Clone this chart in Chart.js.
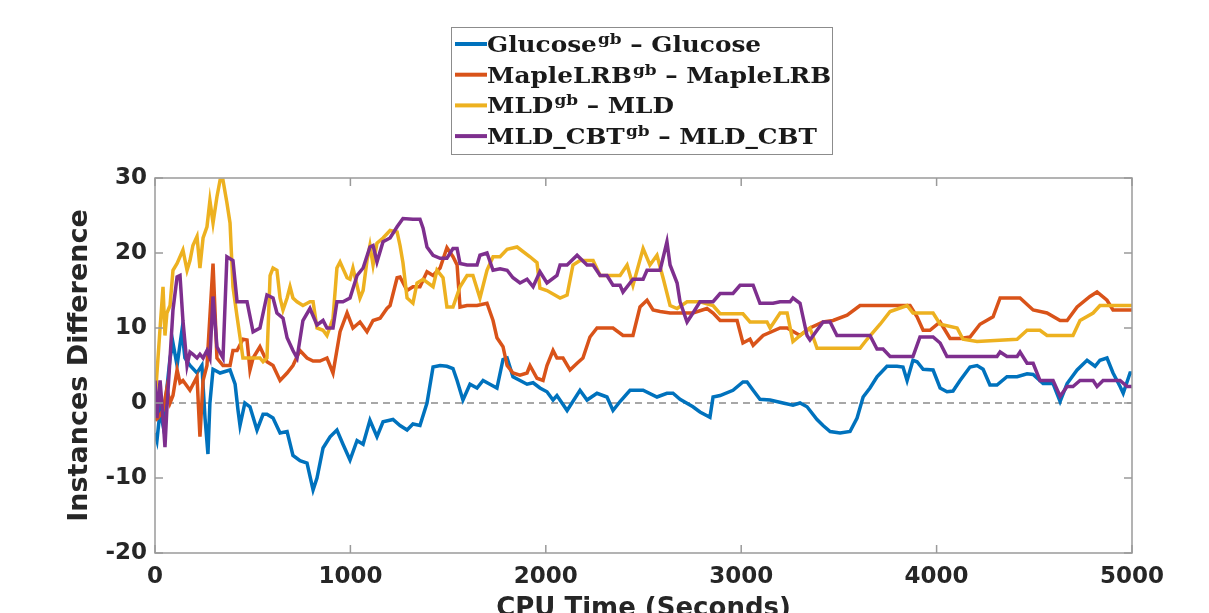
<!DOCTYPE html>
<html>
<head>
<meta charset="utf-8">
<script src="https://cdn.jsdelivr.net/npm/chart.js@4"></script>
<style>
  html, body { margin: 0; padding: 0; background: #fff; overflow: hidden; }
  #wrap { position: relative; width: 1209px; height: 625px; }
  #legendFrame { position: absolute; left: 451px; top: 27px; width: 380px; height: 126px; border: 1.5px solid #8c8c8c; pointer-events: none; }
</style>
</head>
<body>
<div id="wrap"><canvas id="chart" width="1209" height="625"></canvas><div id="legendFrame"></div></div>
<script>
// series names, legend reads "<name>^gb – <name>"
const seriesNames = ['Glucose', 'MapleLRB', 'MLD', 'MLD_CBT']
const seriesColors = ['#0072BD', '#D95319', '#EDB120', '#7E2F8E']

const xTicks = [0, 1000, 2000, 3000, 4000, 5000]
const yTicks = [-20, -10, 0, 10, 20, 30]

// CPU time (s) / instances difference
const glucoseT = [0, 10, 26, 41, 61, 77, 92, 113, 138, 153, 179, 215, 240, 256, 271, 281, 297, 333, 384, 410, 425, 435, 460, 486, 522, 553, 573, 604, 640, 676, 706, 742, 778, 809, 829, 860, 896, 931, 962, 998, 1034, 1065, 1100, 1136, 1167, 1218, 1254, 1290, 1320, 1356, 1392, 1423, 1459, 1494, 1525, 1546, 1576, 1612, 1648, 1679, 1714, 1750, 1781, 1802, 1832, 1868, 1904, 1935, 1970, 2006, 2037, 2057, 2109, 2175, 2211, 2262, 2313, 2344, 2380, 2431, 2498, 2569, 2620, 2651, 2687, 2753, 2789, 2840, 2856, 2892, 2958, 3009, 3030, 3061, 3096, 3148, 3214, 3265, 3301, 3337, 3388, 3419, 3455, 3506, 3557, 3593, 3624, 3659, 3695, 3746, 3797, 3828, 3849, 3879, 3900, 3931, 3982, 4018, 4053, 4084, 4120, 4171, 4207, 4238, 4273, 4309, 4360, 4412, 4463, 4494, 4545, 4596, 4632, 4668, 4719, 4770, 4811, 4836, 4872, 4903, 4939, 4955, 4990, 5000]
const glucoseV = [-4, -5, -1, -3, 2, 6, 8, 5, 9.7, 6, 5, 4, 5, -2, -6.8, 0, 4.5, 4, 4.4, 2.5, -1, -3, 0, -0.5, -3.6, -1.5, -1.5, -2, -4, -3.8, -7, -7.7, -8, -11.6, -10, -6, -4.5, -3.6, -5.5, -7.6, -5, -5.5, -2.3, -4.5, -2.5, -2.2, -3, -3.6, -2.8, -3, 0, 4.8, 5, 4.9, 4.6, 3, 0.4, 2.5, 2, 3, 2.5, 2, 5.8, 6, 3.5, 3, 2.5, 2.7, 2, 1.5, 0.4, 1, -1, 1.7, 0.4, 1.3, 0.8, -1, 0.2, 1.7, 1.7, 0.8, 1.3, 1.3, 0.5, -0.5, -1.2, -1.9, 0.8, 1, 1.7, 2.8, 2.8, 1.7, 0.5, 0.4, 0, -0.3, 0, -0.5, -2.2, -3, -3.8, -4, -3.8, -2, 0.8, 2, 3.5, 4.9, 4.9, 4.8, 3, 5.7, 5.5, 4.5, 4.4, 2, 1.5, 1.6, 3, 4.8, 5, 4.5, 2.4, 2.4, 3.5, 3.5, 3.9, 3.8, 2.6, 2.6, 0.2, 2.6, 4.4, 5.7, 4.9, 5.7, 6, 4, 2.2, 1.3, 4, 4]

const mapleT = [0, 15, 41, 61, 77, 92, 113, 128, 143, 179, 215, 230, 246, 266, 297, 317, 348, 384, 399, 420, 450, 471, 486, 502, 537, 573, 604, 640, 676, 706, 742, 778, 809, 844, 880, 911, 947, 983, 1013, 1049, 1085, 1116, 1152, 1187, 1203, 1239, 1254, 1290, 1320, 1356, 1392, 1423, 1459, 1494, 1525, 1546, 1561, 1597, 1648, 1699, 1730, 1750, 1781, 1802, 1832, 1868, 1904, 1919, 1955, 1986, 2006, 2037, 2057, 2088, 2124, 2160, 2190, 2226, 2262, 2293, 2344, 2395, 2446, 2482, 2518, 2549, 2585, 2636, 2687, 2753, 2825, 2856, 2892, 2979, 3009, 3045, 3061, 3112, 3199, 3235, 3301, 3352, 3419, 3470, 3542, 3608, 3700, 3800, 3864, 3900, 3931, 3966, 4018, 4069, 4120, 4171, 4222, 4289, 4325, 4427, 4494, 4565, 4632, 4668, 4719, 4785, 4821, 4872, 4903, 5000]
const mapleV = [-2.3, -2, -1, 2, 0, 1, 4.4, 2.7, 3, 1.7, 3.5, -4.5, 3, 5, 18.6, 6, 5, 5, 7, 7, 8.5, 8.4, 4.4, 6, 7.5, 5.5, 5, 3, 4, 5, 7, 6, 5.6, 5.6, 6, 4, 9.5, 12, 10, 10.8, 9.5, 11, 11.3, 12.6, 13, 16.7, 16.8, 15, 15.5, 15.5, 17.5, 17, 18, 20.7, 19.5, 18.4, 12.8, 13, 13, 13.3, 11, 8.7, 7.5, 5, 4, 3.7, 4, 5, 3.3, 3, 5, 7, 6, 6, 4.4, 5.3, 6, 8.8, 10, 10, 10, 9, 9, 12.8, 13.7, 12.4, 12.2, 12, 12, 12, 12.6, 12, 11, 11, 8, 8.5, 7.7, 9, 10, 10, 9, 10, 10.8, 11, 11.7, 13, 13, 13, 13, 11.5, 9.7, 9.7, 10.8, 8.6, 8.6, 8.8, 10.5, 11.5, 14, 14, 12.4, 12, 11, 11, 12.8, 14.2, 14.8, 13.7, 12.4, 12.4]

const mldT = [0, 10, 26, 41, 51, 61, 77, 92, 113, 143, 164, 179, 194, 215, 230, 246, 266, 281, 297, 317, 333, 348, 368, 384, 399, 420, 435, 450, 486, 537, 553, 573, 589, 604, 624, 640, 655, 676, 691, 706, 727, 757, 793, 809, 829, 860, 880, 911, 931, 947, 983, 998, 1013, 1049, 1065, 1085, 1100, 1116, 1136, 1167, 1203, 1239, 1254, 1269, 1290, 1320, 1341, 1372, 1423, 1443, 1474, 1494, 1525, 1561, 1597, 1627, 1663, 1699, 1730, 1766, 1802, 1853, 1919, 1955, 1970, 2006, 2073, 2109, 2139, 2175, 2242, 2278, 2313, 2380, 2416, 2446, 2498, 2533, 2569, 2600, 2636, 2672, 2723, 2789, 2856, 2892, 3009, 3045, 3132, 3148, 3199, 3235, 3265, 3316, 3352, 3388, 3608, 3644, 3711, 3762, 3849, 3879, 3982, 4018, 4105, 4135, 4207, 4412, 4463, 4529, 4565, 4698, 4734, 4801, 4836, 5000]
const mldV = [0, 4, 10, 15.5, 9, 12, 13, 17.7, 18.6, 20.4, 17.7, 19, 21, 22.2, 18, 22, 23.5, 27, 24, 27.5, 29.7, 29.7, 26.7, 24, 15.5, 11.5, 8.8, 6, 6, 6, 5.5, 6, 17, 18, 17.7, 14, 12.4, 14, 15.5, 14, 13.5, 13, 13.5, 13.5, 10, 9.7, 9, 11.3, 18, 18.8, 16.7, 16.5, 18, 14, 15, 19, 21, 18.4, 21.3, 22, 23, 22.8, 21, 18.7, 14, 13.3, 16, 16.5, 15.5, 17.7, 16.7, 12.8, 12.8, 15.5, 17, 17, 14, 17.7, 19.5, 19.5, 20.5, 20.8, 19.5, 18.7, 15.3, 15, 14, 14.4, 18.4, 19, 19, 17, 17, 17, 18.4, 15.7, 20.6, 18.4, 19.7, 16.7, 13, 12.6, 13.5, 13.5, 13, 11.9, 11.9, 10.8, 10.8, 10, 12, 12, 8.2, 9.3, 10, 7.3, 7.3, 8.5, 10.5, 12.2, 13, 12, 12, 10.5, 10, 8.5, 8.2, 8.5, 9.7, 9.7, 9, 9, 11, 12, 13, 13]

const cbtT = [0, 10, 26, 41, 51, 61, 77, 92, 113, 128, 143, 164, 179, 194, 215, 230, 246, 266, 281, 297, 317, 348, 368, 399, 420, 450, 471, 502, 537, 573, 604, 624, 655, 676, 706, 727, 757, 793, 829, 860, 880, 911, 931, 962, 998, 1034, 1065, 1100, 1116, 1136, 1167, 1203, 1239, 1269, 1320, 1356, 1372, 1392, 1423, 1459, 1494, 1525, 1546, 1561, 1597, 1648, 1663, 1699, 1730, 1766, 1802, 1832, 1868, 1904, 1935, 1970, 2006, 2057, 2073, 2109, 2160, 2211, 2242, 2278, 2313, 2344, 2380, 2395, 2446, 2498, 2518, 2585, 2620, 2636, 2672, 2687, 2723, 2753, 2789, 2856, 2892, 2958, 2994, 3061, 3096, 3163, 3199, 3250, 3265, 3301, 3316, 3337, 3352, 3388, 3419, 3455, 3490, 3593, 3659, 3695, 3726, 3762, 3879, 3915, 3982, 4018, 4053, 4309, 4325, 4360, 4412, 4427, 4463, 4494, 4529, 4596, 4632, 4668, 4698, 4734, 4801, 4821, 4852, 4939, 4975, 5000]
const cbtV = [3, -2, 3, -2, -5.9, -0.7, 6, 12.4, 16.8, 17, 11, 5, 6.8, 6.5, 6, 6.5, 6, 7, 6, 14.2, 7.5, 6, 19.5, 19, 13.5, 13.5, 13.5, 9.5, 10, 14.4, 14, 12, 11.3, 8.7, 7, 6, 11, 12.6, 10.4, 11, 10, 10, 13.5, 13.5, 14, 17, 18, 20.8, 21, 18.8, 21.5, 22, 23.5, 24.6, 24.5, 24.5, 23.3, 20.8, 19.7, 19.3, 19.3, 20.6, 20.6, 18.6, 18.4, 18.4, 19.7, 20, 17.7, 17.9, 17.7, 16.7, 16, 16.5, 15.5, 17.5, 16, 17, 18.4, 18.4, 19.7, 18.4, 18.4, 17, 17, 15.7, 15.7, 14.8, 16.5, 16.5, 17.7, 17.7, 21.5, 18.4, 16, 13.5, 10.8, 12, 13.5, 13.5, 14.6, 14.6, 15.7, 15.7, 13.3, 13.3, 13.5, 13.5, 14, 13.3, 11.5, 9, 8.4, 9.7, 10.8, 10.8, 9, 9, 9, 7.2, 7.2, 6.2, 6.2, 8.8, 8.8, 8, 6.2, 6.2, 6.8, 6.2, 6.2, 6.8, 5.3, 5.3, 3, 3, 0.9, 2.2, 2.2, 3, 3, 2.2, 3, 3, 2.2, 2.2]

function pts(t, v) {
  return t.map((x, i) => ({x: x, y: v[i]}))
}

const seriesData = [pts(glucoseT, glucoseV), pts(mapleT, mapleV), pts(mldT, mldV), pts(cbtT, cbtV)]

// MATLAB style box, inward ticks and dashed zero line
const matlabAxes = {
  id: 'matlabAxes',
  beforeDatasetsDraw(chart) {
    const {ctx, chartArea: a, scales: {y}} = chart
    const y0 = y.getPixelForValue(0)
    ctx.save()
    ctx.strokeStyle = '#8a8a8a'
    ctx.lineWidth = 1.3
    ctx.setLineDash([7, 5])
    ctx.beginPath()
    ctx.moveTo(a.left, y0)
    ctx.lineTo(a.right, y0)
    ctx.stroke()
    ctx.restore()
  },
  afterDatasetsDraw(chart) {
    const {ctx, chartArea: a, scales: {x, y}} = chart
    ctx.save()
    ctx.strokeStyle = '#9a9a9a'
    ctx.lineWidth = 1.5
    ctx.strokeRect(a.left, a.top, a.right - a.left, a.bottom - a.top)
    ctx.beginPath()
    xTicks.forEach(t => {
      const px = x.getPixelForValue(t)
      ctx.moveTo(px, a.bottom); ctx.lineTo(px, a.bottom - 8)
      ctx.moveTo(px, a.top); ctx.lineTo(px, a.top + 8)
    })
    yTicks.forEach(t => {
      const py = y.getPixelForValue(t)
      ctx.moveTo(a.left, py); ctx.lineTo(a.left + 8, py)
      ctx.moveTo(a.right, py); ctx.lineTo(a.right - 8, py)
    })
    ctx.stroke()
    ctx.restore()
  }
}

// legend entries with the "gb" superscript (frame is the #legendFrame div)
const boxedLegend = {
  id: 'boxedLegend',
  afterDraw(chart) {
    const ctx = chart.ctx
    const big = 'bold 22px "DejaVu Serif"'
    const small = 'bold 15px "DejaVu Serif"'
    const widthOf = (name) => {
      ctx.font = big
      let w = ctx.measureText(name).width + ctx.measureText(' \u2013 ' + name).width
      ctx.font = small
      return w + ctx.measureText('gb').width
    }
    // fit the widest row into the box
    const sx = 343 / Math.max(...seriesNames.map(widthOf))
    chart.data.datasets.forEach((ds, i) => {
      const cy = 44 + i * 30.7
      ctx.save()
      ctx.strokeStyle = ds.borderColor
      ctx.lineWidth = 4
      ctx.beginPath()
      ctx.moveTo(455, cy)
      ctx.lineTo(487, cy)
      ctx.stroke()
      const name = seriesNames[i]
      ctx.translate(487, cy + 8)
      ctx.scale(sx, 1)
      ctx.fillStyle = '#1a1a1a'
      ctx.textBaseline = 'alphabetic'
      ctx.font = big
      ctx.fillText(name, 0, 0)
      let px = ctx.measureText(name).width + 1
      ctx.font = small
      ctx.fillText('gb', px, -8)
      px += ctx.measureText('gb').width
      ctx.font = big
      ctx.fillText(' \u2013 ' + name, px, 0)
      ctx.restore()
    })
  }
}

const tickFont = {family: 'DejaVu Sans', size: 23, weight: 'bold'}
const titleFont = {family: 'DejaVu Sans', size: 26, weight: 'bold'}

new Chart(document.getElementById('chart'), {
  type: 'line',
  data: {
    datasets: seriesNames.map((n, i) => ({
      label: n + '^gb \u2013 ' + n,
      data: seriesData[i],
      borderColor: seriesColors[i],
      backgroundColor: seriesColors[i],
      borderWidth: 3.5,
      pointRadius: 0,
      tension: 0,
      fill: false,
      order: 3 - i
    }))
  },
  options: {
    responsive: false,
    animation: false,
    layout: {padding: {top: 178, right: 77, left: 0, bottom: 0}},
    plugins: {legend: {display: false}, tooltip: {enabled: false}},
    scales: {
      x: {
        type: 'linear',
        min: 0,
        max: 5000,
        afterFit: s => { s.height = 72 },
        grid: {display: false, drawTicks: false},
        border: {display: false},
        ticks: {stepSize: 1000, font: tickFont, color: '#262626', padding: 10, maxRotation: 0, callback: v => String(v)},
        title: {display: true, text: 'CPU Time (Seconds)', font: titleFont, color: '#262626', padding: {top: 2, bottom: 0}}
      },
      y: {
        min: -20,
        max: 30,
        afterFit: s => { s.width = 155 },
        grid: {display: false, drawTicks: false},
        border: {display: false},
        ticks: {stepSize: 10, font: tickFont, color: '#262626', padding: 8, callback: v => String(v)},
        title: {display: true, text: 'Instances Difference', font: {family: 'DejaVu Sans', size: 27, weight: 'bold'}, color: '#262626', padding: {top: 64, bottom: 0}}
      }
    }
  },
  plugins: [matlabAxes, boxedLegend]
})
</script>
</body>
</html>
